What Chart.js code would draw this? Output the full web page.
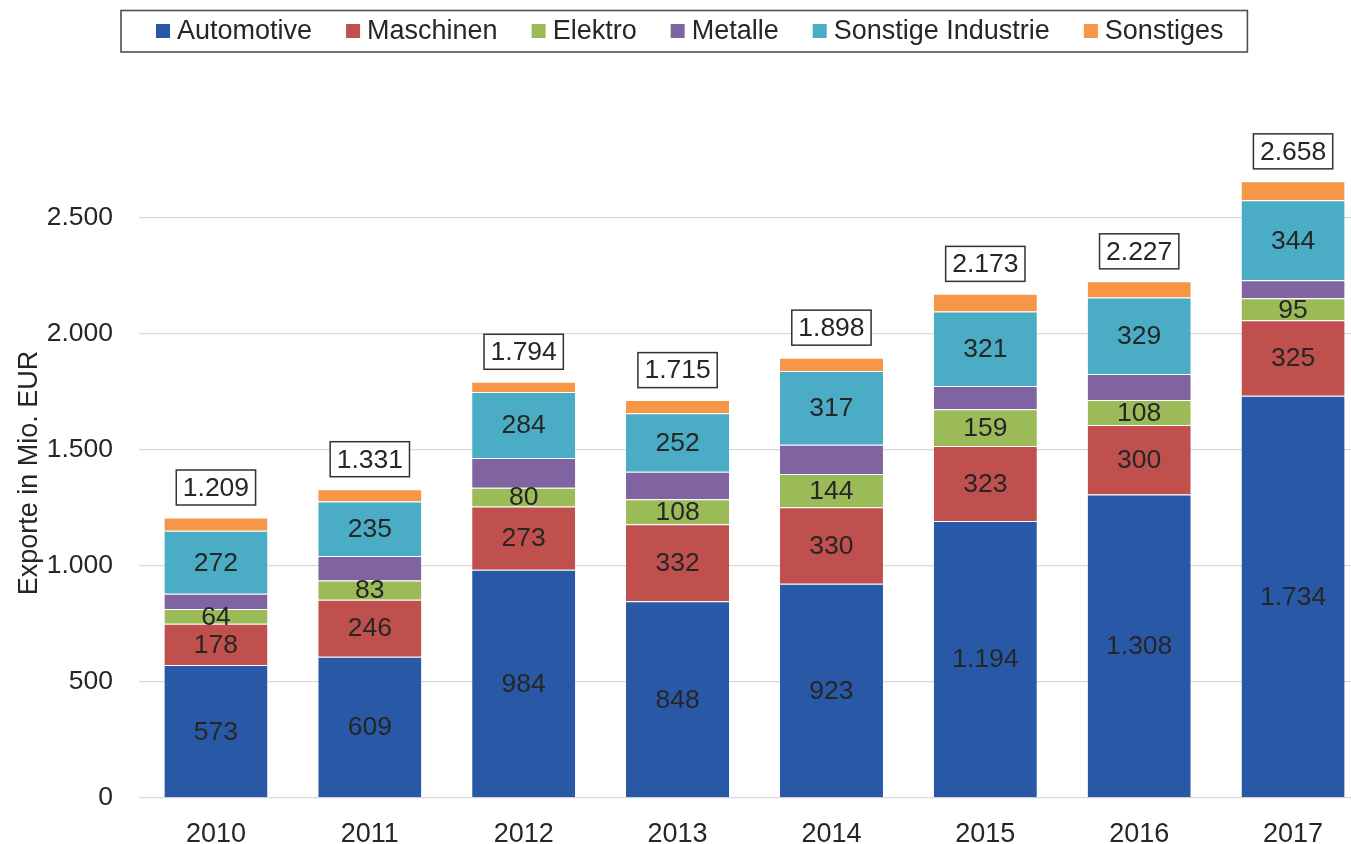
<!DOCTYPE html>
<html>
<head>
<meta charset="utf-8">
<script src="https://cdn.jsdelivr.net/npm/chart.js@4.4.0/dist/chart.umd.min.js"></script>
<style>
html, body { margin: 0; padding: 0; background: #fff; overflow: hidden; }
#wrap { position: relative; width: 1370px; height: 844px; }
</style>
</head>
<body>
<div id="wrap"><canvas id="chart"></canvas></div>
<script>
// data (Metalle / Sonstiges are not labelled)
const years = ['2010', '2011', '2012', '2013', '2014', '2015', '2016', '2017'];
const automotive = [573, 609, 984, 848, 923, 1194, 1308, 1734];
const maschinen = [178, 246, 273, 332, 330, 323, 300, 325];
const elektro = [64, 83, 80, 108, 144, 159, 108, 95];
const metalle = [65, 105, 129, 118, 126, 100, 112, 78];
const sonstigeIndustrie = [272, 235, 284, 252, 317, 321, 329, 344];
const sonstiges = [57, 53, 44, 57, 58, 76, 70, 82];
const totals = [1209, 1331, 1794, 1715, 1898, 2173, 2227, 2658];
const seriesNames = ['Automotive', 'Maschinen', 'Elektro', 'Metalle', 'Sonstige Industrie', 'Sonstiges'];
const seriesColors = ['#2959A6', '#C0504D', '#9BBB59', '#8064A2', '#4BACC6', '#F79646'];
const labeledSeries = [true, true, true, false, true, false];
const yMaxTick = 2500;
const yTitle = 'Exporte in Mio. EUR';

const textColor = '#262626';
const fontFamily = '"Liberation Sans", Arial, sans-serif';

function fmt(n) {
    return String(n).replace(/\B(?=(\d{3})+(?!\d))/g, '.');
}

const seriesValues = [automotive, maschinen, elektro, metalle, sonstigeIndustrie, sonstiges];
const datasets = seriesNames.map((name, i) => ({
    label: name,
    data: seriesValues[i],
    backgroundColor: seriesColors[i],
    borderColor: 'rgba(255,255,255,0.55)',
    borderWidth: {top: 1, left: 0, right: 0, bottom: 0},
    borderSkipped: 'start',
    categoryPercentage: 1,
    barPercentage: 0.67
}));

// value labels inside the segments + boxed totals on top
const labelPlugin = {
    id: 'labels',
    afterDatasetsDraw(chart) {
        const ctx = chart.ctx;
        ctx.save();
        ctx.fillStyle = textColor;
        ctx.textAlign = 'center';
        ctx.textBaseline = 'middle';
        ctx.font = '26.5px ' + fontFamily;
        chart.data.datasets.forEach((ds, di) => {
            if (!labeledSeries[di]) return;
            chart.getDatasetMeta(di).data.forEach((bar, i) => {
                ctx.fillText(fmt(ds.data[i]), bar.x, (bar.y + bar.base) / 2 + 1);
            });
        });
        const xs = chart.scales.x, ys = chart.scales.y;
        totals.forEach((t, i) => {
            const x = xs.getPixelForValue(i);
            const top = ys.getPixelForValue(t);
            const cy = top - 30;
            const txt = fmt(t);
            const w = ctx.measureText(txt).width + 13;
            const h = 35;
            ctx.fillStyle = '#fff';
            ctx.fillRect(x - w / 2, cy - h / 2, w, h);
            ctx.strokeStyle = '#333';
            ctx.lineWidth = 1.5;
            ctx.strokeRect(x - w / 2, cy - h / 2, w, h);
            ctx.fillStyle = textColor;
            ctx.fillText(txt, x, cy + 1);
        });
        ctx.restore();
    }
};

// framed legend and y-axis title like the original
const legendPlugin = {
    id: 'boxLegend',
    afterDraw(chart) {
        const ctx = chart.ctx;
        ctx.save();
        ctx.font = '27px ' + fontFamily;
        ctx.textBaseline = 'middle';
        ctx.textAlign = 'left';
        const left = 121, top = 10.5, bottom = 52, cy = 31;
        let x = left + 35;
        chart.data.datasets.forEach((ds) => {
            ctx.fillStyle = ds.backgroundColor;
            ctx.fillRect(x, cy - 7, 14, 14);
            x += 21;
            ctx.fillStyle = textColor;
            ctx.fillText(ds.label, x, cy + 1);
            x += ctx.measureText(ds.label).width + 34;
        });
        const right = x - 34 + 24;
        ctx.strokeStyle = '#505050';
        ctx.lineWidth = 1.6;
        ctx.strokeRect(left, top, right - left, bottom - top);

        // axis title, rotated
        ctx.translate(30, chart.chartArea.bottom - 325);
        ctx.rotate(-Math.PI / 2);
        ctx.textAlign = 'center';
        ctx.fillStyle = textColor;
        ctx.fillText(yTitle, 0, 0);
        ctx.restore();
    }
};

new Chart(document.getElementById('chart'), {
    type: 'bar',
    data: { labels: years, datasets: datasets },
    options: {
        responsive: true,
        maintainAspectRatio: false,
        animation: false,
        events: [],
        layout: { padding: { top: 102, left: 0, right: 0, bottom: 0 } },
        plugins: {
            legend: { display: false },
            tooltip: { enabled: false }
        },
        scales: {
            x: {
                stacked: true,
                grid: { display: false },
                border: { display: false },
                ticks: {
                    color: textColor,
                    font: { family: fontFamily, size: 27 },
                    padding: 12
                },
                afterFit(scale) { scale.height = 46; }
            },
            y: {
                stacked: true,
                min: 0,
                max: 3000,
                border: { display: false },
                grid: {
                    drawTicks: false,
                    lineWidth: 1.3,
                    color: (c) => (c.tick && c.tick.value <= yMaxTick) ? '#D9D9D9' : 'rgba(0,0,0,0)'
                },
                ticks: {
                    stepSize: 500,
                    color: textColor,
                    padding: 26,
                    font: { family: fontFamily, size: 26.5 },
                    callback: (v) => v <= yMaxTick ? fmt(v) : ''
                },
                afterFit(scale) { scale.width = 139; }
            }
        }
    },
    plugins: [labelPlugin, legendPlugin]
});
</script>
</body>
</html>
